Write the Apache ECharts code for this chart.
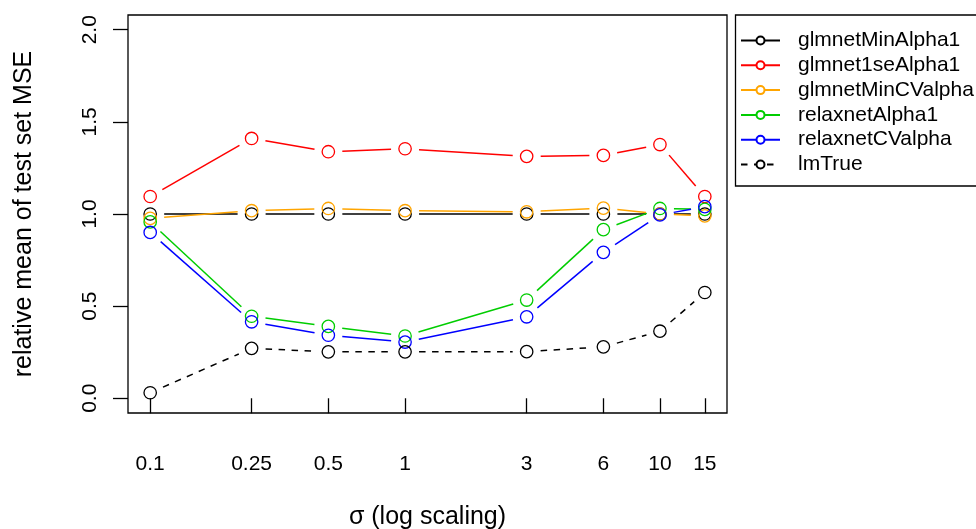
<!DOCTYPE html>
<html>
<head>
<meta charset="utf-8">
<script src="https://cdn.jsdelivr.net/npm/echarts@6/dist/echarts.min.js"></script>
<style>
  html, body { margin: 0; padding: 0; background: #fff; }
  #chart { width: 976px; height: 529px; }
</style>
</head>
<body>
<div id="chart"></div>
<script>
// Noise level sigma (x, log scale) and relative test-set MSE per method
const sigma = [0.1, 0.25, 0.5, 1, 3, 6, 10, 15];
const xTickLabels = ['0.1', '0.25', '0.5', '1', '3', '6', '10', '15'];
const yTicks = [0, 0.5, 1, 1.5, 2];

const glmnetMinAlpha1  = [1, 1, 1, 1, 1, 1, 1, 1];
const glmnet1seAlpha1  = [1.095, 1.41, 1.338, 1.354, 1.313, 1.318, 1.377, 1.095];
const glmnetMinCValpha = [0.976, 1.018, 1.03, 1.018, 1.012, 1.032, 1.0, 0.99];
const relaxnetAlpha1   = [0.957, 0.445, 0.39, 0.338, 0.533, 0.915, 1.03, 1.025];
const relaxnetCValpha  = [0.9, 0.415, 0.342, 0.305, 0.442, 0.792, 0.995, 1.04];
const lmTrue           = [0.03, 0.271, 0.252, 0.252, 0.253, 0.279, 0.364, 0.574];

const methods = [
  { name: 'glmnetMinAlpha1',  values: glmnetMinAlpha1,  color: '#000000', dash: null },
  { name: 'glmnet1seAlpha1',  values: glmnet1seAlpha1,  color: '#FF0000', dash: null },
  { name: 'glmnetMinCValpha', values: glmnetMinCValpha, color: '#FFA500', dash: null },
  { name: 'relaxnetAlpha1',   values: relaxnetAlpha1,   color: '#00CD00', dash: null },
  { name: 'relaxnetCValpha',  values: relaxnetCValpha,  color: '#0000FF', dash: null },
  { name: 'lmTrue',           values: lmTrue,           color: '#000000', dash: [6.5, 6.5] }
];

const FONT = '"Liberation Sans", Arial, Helvetica, sans-serif';
const LINE_W = 1.5;
const RING_R = 6.2;
const GAP = 14;   // segments stop short of each point marker

// Axis limits padded by 4% of the data range on each side
const lx0 = Math.log10(sigma[0]);
const lx1 = Math.log10(sigma[sigma.length - 1]);
const lpad = (lx1 - lx0) * 0.04;
const xMin = Math.pow(10, lx0 - lpad);
const xMax = Math.pow(10, lx1 + lpad);
const yMin = 0 - 2 * 0.04;
const yMax = 2 + 2 * 0.04;

function makeRenderer(color, dash) {
  return function (params, api) {
    const p = api.coord([api.value(0), api.value(1)]);
    const children = [{
      type: 'circle',
      shape: { cx: p[0], cy: p[1], r: RING_R },
      style: { fill: 'none', stroke: color, lineWidth: 1.3 }
    }];
    const nx = api.value(2);
    if (!isNaN(nx)) {
      const q = api.coord([nx, api.value(3)]);
      const dx = q[0] - p[0], dy = q[1] - p[1];
      const d = Math.sqrt(dx * dx + dy * dy);
      if (d > 2 * GAP) {
        const ux = dx / d, uy = dy / d;
        children.push({
          type: 'line',
          shape: { x1: p[0] + ux * GAP, y1: p[1] + uy * GAP, x2: q[0] - ux * GAP, y2: q[1] - uy * GAP },
          style: { stroke: color, lineWidth: LINE_W, lineDash: dash || null }
        });
      }
    }
    return { type: 'group', children: children };
  };
}

const series = [];
// Legend entries (line + circle icons)
methods.forEach(function (m) {
  series.push({
    type: 'line',
    name: m.name,
    data: [],
    symbol: 'emptyCircle',
    symbolSize: 8,
    itemStyle: { color: m.color, borderColor: m.color, borderWidth: 1.3 },
    lineStyle: { color: m.color, width: LINE_W, type: m.dash ? m.dash : 'solid' }
  });
});
// Point-and-segment marks for each method
methods.forEach(function (m) {
  const data = sigma.map(function (s, i) {
    const last = i === sigma.length - 1;
    return [s, m.values[i], last ? NaN : sigma[i + 1], last ? NaN : m.values[i + 1]];
  });
  series.push({
    type: 'custom',
    name: m.name + ' points',
    data: data,
    renderItem: makeRenderer(m.color, m.dash),
    encode: { x: 0, y: 1 },
    silent: true,
    animation: false
  });
});

const chart = echarts.init(document.getElementById('chart'), null, { renderer: 'canvas' });
chart.setOption({
  animation: false,
  backgroundColor: '#ffffff',
  textStyle: { fontFamily: FONT },
  grid: {
    left: 128, right: 249, top: 15, bottom: 116,
    show: true, borderColor: '#000', borderWidth: 1.3, backgroundColor: 'transparent',
    containLabel: false, outerBoundsMode: 'none'
  },
  // Legend frame; it runs past the right edge of the canvas
  graphic: [{
    type: 'rect',
    shape: { x: 735.5, y: 15, width: 300, height: 171 },
    style: { fill: 'none', stroke: '#000', lineWidth: 1.3 },
    silent: true,
    z: 10
  }],
  xAxis: {
    type: 'log',
    logBase: 10,
    min: xMin,
    max: xMax,
    name: 'σ (log scaling)',
    nameLocation: 'middle',
    nameGap: 92,
    nameTextStyle: { fontSize: 25, color: '#000', fontFamily: FONT },
    axisLine: { show: false },
    splitLine: { show: false },
    minorTick: { show: false },
    axisTick: { show: true, inside: false, length: 15, customValues: sigma, lineStyle: { color: '#000', width: 1.3 } },
    axisLabel: {
      customValues: sigma,
      margin: 41,
      fontSize: 21,
      color: '#000',
      fontFamily: FONT,
      hideOverlap: false,
      formatter: function (v) {
        for (let i = 0; i < sigma.length; i++) {
          if (Math.abs(sigma[i] - v) < 1e-9) return xTickLabels[i];
        }
        return '';
      }
    }
  },
  yAxis: {
    type: 'value',
    min: yMin,
    max: yMax,
    name: 'relative mean of test set MSE',
    nameLocation: 'middle',
    nameGap: 91,
    nameTextStyle: { fontSize: 25, color: '#000', fontFamily: FONT },
    axisLine: { show: false },
    splitLine: { show: false },
    axisTick: { show: true, inside: false, length: 15, customValues: yTicks, lineStyle: { color: '#000', width: 1.3 } },
    axisLabel: {
      customValues: yTicks,
      rotate: 90,
      margin: 27,
      fontSize: 21,
      color: '#000',
      fontFamily: FONT,
      hideOverlap: false,
      formatter: function (v) { return v.toFixed(1); }
    }
  },
  legend: {
    orient: 'vertical',
    left: 735.5,
    top: 15,
    padding: [15, 20, 14, 4.5],
    borderWidth: 0,
    backgroundColor: 'transparent',
    itemWidth: 39,
    itemHeight: 10,
    itemGap: 3.8,
    selectedMode: false,
    data: methods.map(function (m) { return m.name; }),
    textStyle: { fontSize: 21, lineHeight: 20, color: '#000', fontFamily: FONT, padding: [0, 0, 0, 13] }
  },
  series: series
});
</script>
</body>
</html>
